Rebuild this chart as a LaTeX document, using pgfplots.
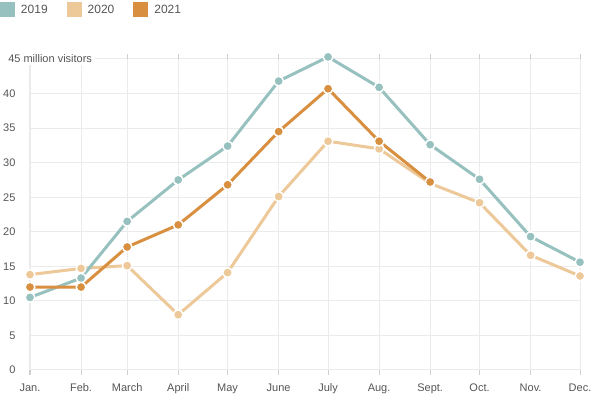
\documentclass[border=0pt]{standalone}
\usepackage{pgfplots}
\pgfplotsset{compat=1.18}
\usepackage{fontspec}
\setmainfont{Liberation Sans}
\definecolor{cA}{HTML}{97C1BF}
\definecolor{cB}{HTML}{EDC898}
\definecolor{cC}{HTML}{D98F40}
\definecolor{txt}{HTML}{555555}
\definecolor{gridc}{HTML}{EBEBEB}
\definecolor{tickc}{HTML}{CFCFCF}
\begin{document}
\begin{tikzpicture}
\useasboundingbox (-22.5pt,-18.75pt) rectangle (427.5pt,277.5pt);
\begin{axis}[
  at={(0,0)}, anchor=south west,
  scale only axis, width=412.5pt, height=233.25pt,
  xmin=0, xmax=334, ymin=0, ymax=45,
  clip=false,
  axis line style={draw=none},
  xtick={0,31,59,90,120,151,181,212,243,273,304,334},
  xticklabels={Jan.,Feb.,March,April,May,June,July,Aug.,Sept.,Oct.,Nov.,Dec.},
  ytick={0,5,...,45},
  yticklabels={0,5,10,15,20,25,30,35,40,},
  xmajorgrids, ymajorgrids,
  grid style={gridc, line width=0.75pt},
  tick align=outside,
  major tick length=3.75pt,
  x tick style={tickc, line width=0.75pt},
  y tick style={draw=none},
  /pgf/number format/assume math mode=true,
  tick label style={font=\fontsize{8.25pt}{9pt}\selectfont, text=txt},
  xticklabel style={anchor=base, inner sep=0pt, yshift=-12.5pt},
  yticklabel style={anchor=east, inner sep=0pt, xshift=-7pt},
  legend style={at={(-0.05455,1.1833)}, anchor=north west, draw=none, fill=none,
    inner sep=0pt, outer sep=0pt, legend columns=3,
    font=\fontsize{9pt}{10pt}\selectfont, text=txt,
    nodes={inner sep=0pt},
    /tikz/every even column/.append style={column sep=14.25pt}},
  legend cell align=left,
  legend image code/.code={\fill[#1] (0pt,-4.9pt) rectangle (11.25pt,6.35pt); \path (15.75pt,0pt);},
  every axis plot/.append style={line width=2.25pt, mark=*, mark size=3.6pt},
  after end axis/.code={
    \node[anchor=west, fill=white, inner xsep=2.25pt, inner ysep=1.5pt,
      font=\fontsize{8.25pt}{9pt}\selectfont, text=txt]
      at (rel axis cs:0,1) [xshift=-18.75pt] {45 million visitors};
  },
]
\addlegendimage{fill=cA, draw=none}
\addlegendentry{2019}
\addlegendimage{fill=cB, draw=none}
\addlegendentry{2020}
\addlegendimage{fill=cC, draw=none}
\addlegendentry{2021}

\addplot[cB, mark options={draw=white, line width=1.1pt, fill=cB}, forget plot] coordinates {
 (0,13.8) (31,14.7) (59,15.1) (90,8.0) (120,14.1) (151,25.1) (181,33.1) (212,32.0) (243,27.0) (273,24.2) (304,16.6) (334,13.6)};
\addplot[cA, mark options={draw=white, line width=1.1pt, fill=cA}, forget plot] coordinates {
 (0,10.5) (31,13.3) (59,21.5) (90,27.5) (120,32.4) (151,41.8) (181,45.3) (212,40.9) (243,32.6) (273,27.6) (304,19.3) (334,15.6)};
\addplot[cC, mark options={draw=white, line width=1.1pt, fill=cC}, forget plot] coordinates {
 (0,12.0) (31,12.0) (59,17.8) (90,21.0) (120,26.8) (151,34.5) (181,40.7) (212,33.1) (243,27.2)};
\end{axis}
\end{tikzpicture}
\end{document}
